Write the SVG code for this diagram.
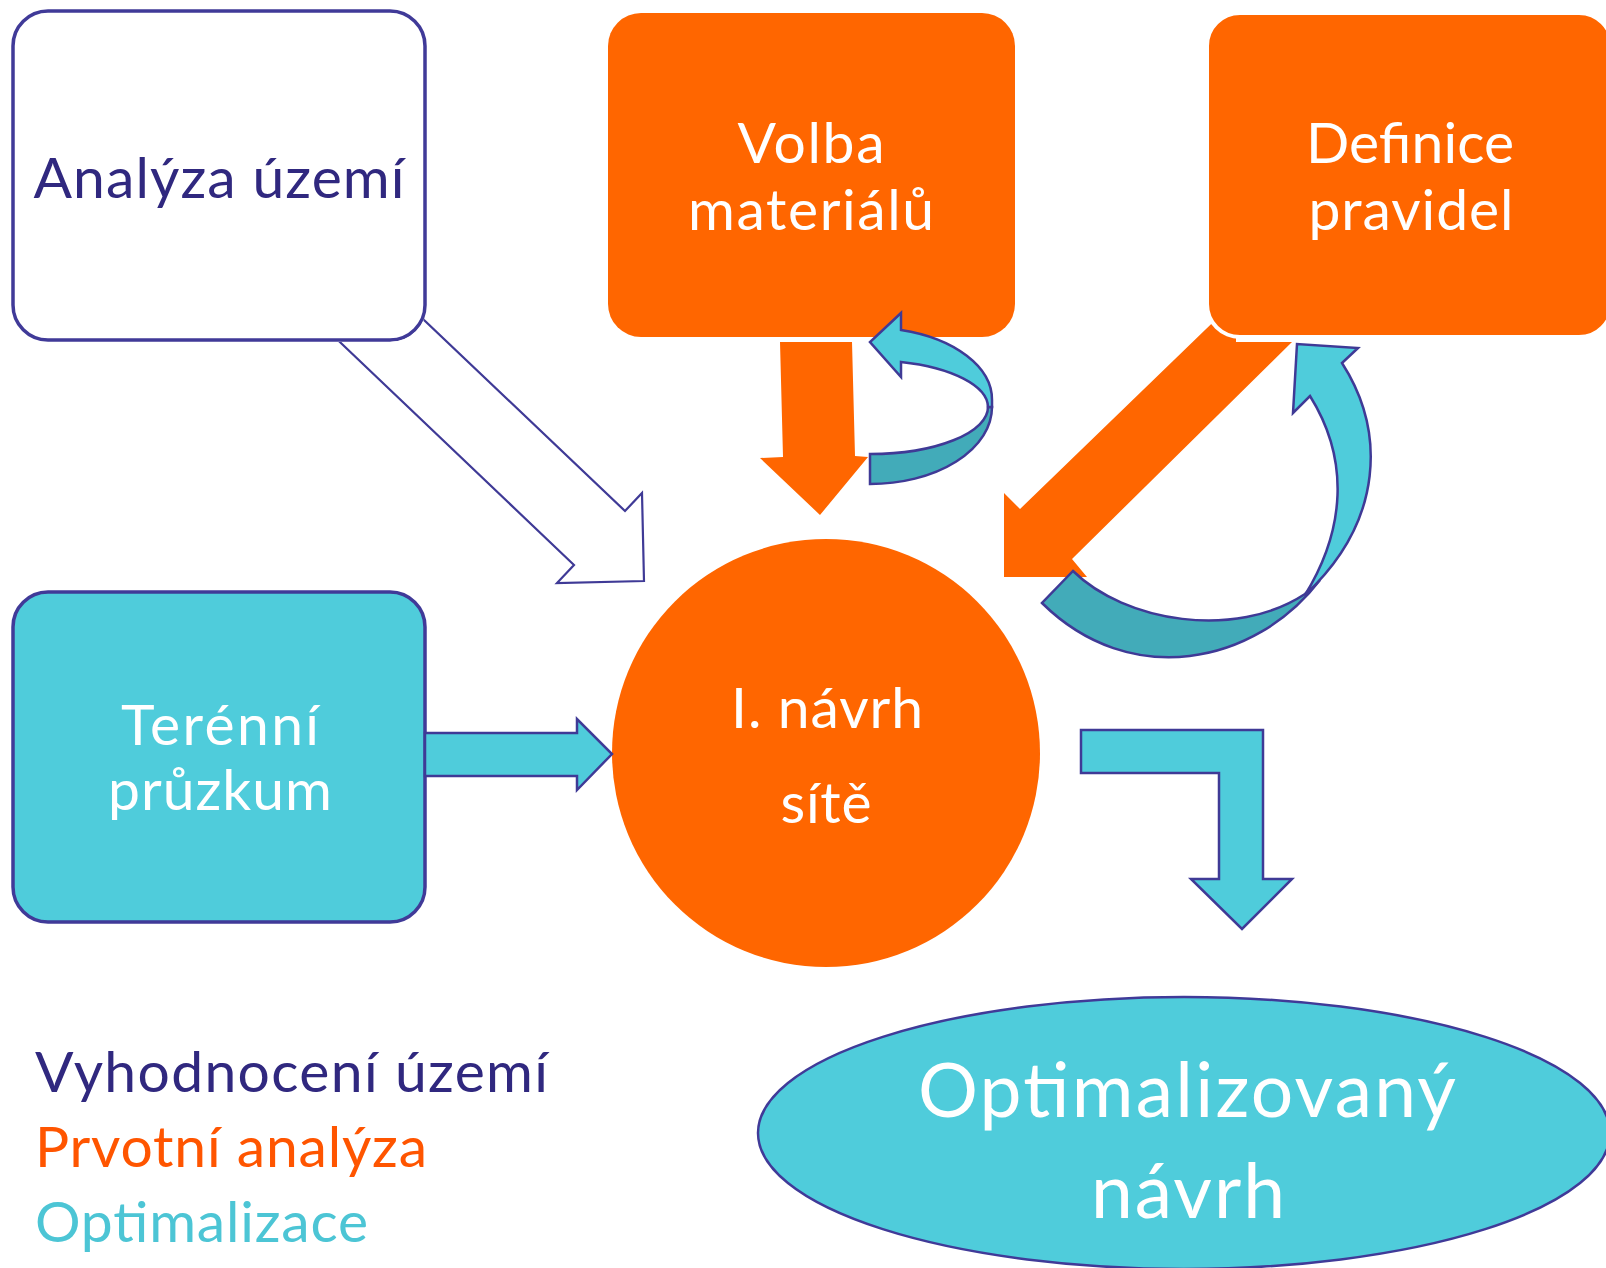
<svg xmlns="http://www.w3.org/2000/svg" width="1606" height="1268" viewBox="0 0 1606 1268">
<style>
.t{font-family:Lato,"Open Sans","Liberation Sans",sans-serif;text-anchor:middle;font-size:57px}
.s{text-anchor:start}
.w{fill:#ffffff}
.nav{fill:#30287F}
.cy{fill:#4FCCDB;stroke:#3F3A96;stroke-width:2.5;stroke-linejoin:miter}
.dk{fill:#42ABB9;stroke:#3F3A96;stroke-width:2.5;stroke-linejoin:miter}
.or{fill:#FF6600}
.ol{fill:#ffffff;stroke:#3F3A96;stroke-width:2.2;stroke-linejoin:miter}
</style>
<defs>
<mask id="mA" maskUnits="userSpaceOnUse" x="0" y="0" width="1606" height="1268">
<rect x="0" y="0" width="1606" height="1268" fill="#fff"/>
<rect x="11" y="9" width="416" height="333" rx="37" fill="#000"/>
</mask>
<mask id="mD" maskUnits="userSpaceOnUse" x="0" y="0" width="1606" height="1268">
<rect x="0" y="0" width="1606" height="1268" fill="#fff"/>
<rect x="1205" y="11" width="412" height="328" rx="35" fill="#000"/>
</mask>
</defs>
<rect width="1606" height="1268" fill="#ffffff"/>

<g id="analyza">
<rect x="13" y="11" width="412" height="329" rx="35" fill="#ffffff" stroke="#403A98" stroke-width="3.5"/>
<text class="t nav" x="219" y="198" textLength="371">Analýza území</text>
</g>
<g id="volba">
<rect x="608" y="13" width="407" height="324" rx="33" class="or"/>
<text class="t w" x="811" y="163" textLength="147">Volba</text>
<text class="t w" x="811" y="230" textLength="246">materiálů</text>
</g>
<g id="definice">
<rect x="1207" y="13" width="405" height="324" rx="33" class="or" stroke="#ffffff" stroke-width="4"/>
<text class="t w" x="1410" y="163" textLength="208">Definice</text>
<text class="t w" x="1411" y="230" textLength="205">pravidel</text>
</g>
<g id="terenni">
<rect x="13" y="592" width="412" height="330" rx="35" fill="#4FCCDB" stroke="#403A98" stroke-width="3.5"/>
<text class="t w" x="220" y="745" textLength="198">Terénní</text>
<text class="t w" x="220" y="810" textLength="224">průzkum</text>
</g>
<g id="navrh">
<circle cx="826" cy="753" r="214" class="or"/>
<text class="t w" x="827" y="728" textLength="192">I. návrh</text>
<text class="t w" x="826" y="823" textLength="91">sítě</text>
</g>
<g id="optimalizovany">
<ellipse cx="1184" cy="1133" rx="426" ry="136" fill="#4FCCDB" stroke="#403A98" stroke-width="2.5"/>
<text class="t w" x="1187" y="1117" style="font-size:75px" textLength="538">Optimalizovaný</text>
<text class="t w" x="1188" y="1218" style="font-size:75px" textLength="194">návrh</text>
</g>
<g id="legenda">
<text class="t s nav" x="35" y="1092" textLength="513">Vyhodnocení území</text>
<text class="t s" x="35" y="1167" fill="#FF5500" textLength="392">Prvotní analýza</text>
<text class="t s" x="35" y="1242" fill="#4CC5D5" textLength="333">Optimalizace</text>
</g>

<g id="connectors">
<polygon class="ol" mask="url(#mA)" points="280,285 574,565 557,583 644,581 642,493 625,511 364,263"/>
<polygon class="or" points="780,342 852,342 855,456 868,457 820,515 760,458 783,457"/>
<polygon class="or" mask="url(#mD)" points="1236,300 1020,509 1004,493 1004,577 1087,577 1072,559 1292,342 1236,342"/>
<path class="dk" d="M 870 454 A 118 47 0 0 0 988 407 L 992 407 A 122 77 0 0 1 870 484 Z"/>
<path class="cy" d="M 901 330 A 122 72 0 0 1 992 400 L 992 407 L 988 407 A 118 47 0 0 0 901 362 L 901 377 L 870 342 L 901 313 Z"/>
<path class="dk" d="M 1073 571 C 1125 622 1235 640 1305 594 L 1320 580 C 1255 665 1130 690 1042 603 Z"/>
<path class="cy" d="M 1342 363 C 1385 430 1385 520 1305 595 C 1345 530 1350 460 1310 396 L 1293 413 L 1297 344 L 1358 348 Z"/>
<polygon class="cy" points="425,733 577,733 577,719 612,754 577,790 577,776 425,776"/>
<polygon class="cy" points="1081,730 1263,730 1263,879 1292,879 1242,929 1191,879 1219,879 1219,773 1081,773"/>
</g>
</svg>
